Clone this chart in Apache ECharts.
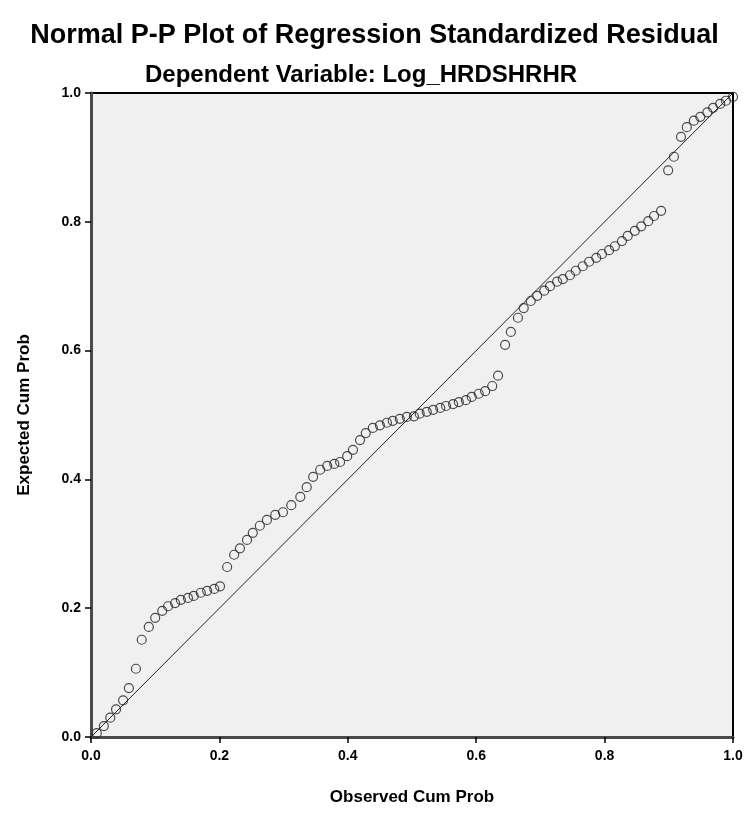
<!DOCTYPE html>
<html>
<head>
<meta charset="utf-8">
<script src="https://cdn.jsdelivr.net/npm/echarts@6/dist/echarts.min.js"></script>
<style>
  html, body { margin: 0; padding: 0; background: #fff; }
  #chart { width: 749px; height: 814px; }
</style>
</head>
<body>
<div id="chart"></div>
<script>
// observed vs expected cumulative probability
const observed = [
  0.009, 0.020, 0.030, 0.039, 0.050, 0.059, 0.070, 0.079, 0.090, 0.100,
  0.111, 0.120, 0.131, 0.140, 0.151, 0.160, 0.171, 0.181, 0.192, 0.201,
  0.212, 0.223, 0.232, 0.243, 0.252, 0.263, 0.274, 0.287, 0.299, 0.312,
  0.326, 0.336, 0.346, 0.357, 0.368, 0.379, 0.388, 0.399, 0.408, 0.419,
  0.428, 0.439, 0.450, 0.461, 0.470, 0.481, 0.492, 0.503, 0.512, 0.523,
  0.533, 0.544, 0.553, 0.564, 0.573, 0.584, 0.593, 0.604, 0.614, 0.625,
  0.634, 0.645, 0.654, 0.665, 0.674, 0.685, 0.695, 0.706, 0.715, 0.726,
  0.735, 0.746, 0.755, 0.766, 0.776, 0.787, 0.796, 0.807, 0.816, 0.827,
  0.836, 0.847, 0.857, 0.868, 0.877, 0.888, 0.899, 0.908, 0.919, 0.928,
  0.939, 0.949, 0.960, 0.969, 0.980, 0.989, 1.000
];
const expected = [
  0.006, 0.017, 0.030, 0.043, 0.057, 0.076, 0.106, 0.151, 0.171, 0.185,
  0.196, 0.203, 0.208, 0.213, 0.216, 0.219, 0.224, 0.227, 0.230, 0.234,
  0.264, 0.283, 0.293, 0.306, 0.317, 0.328, 0.337, 0.345, 0.349, 0.360,
  0.373, 0.388, 0.404, 0.415, 0.421, 0.424, 0.427, 0.436, 0.446, 0.461,
  0.472, 0.480, 0.484, 0.488, 0.491, 0.494, 0.497, 0.498, 0.502, 0.505,
  0.508, 0.511, 0.514, 0.517, 0.520, 0.523, 0.528, 0.533, 0.537, 0.545,
  0.561, 0.609, 0.629, 0.651, 0.666, 0.677, 0.685, 0.693, 0.700, 0.707,
  0.711, 0.717, 0.724, 0.731, 0.738, 0.744, 0.750, 0.756, 0.762, 0.770,
  0.778, 0.786, 0.793, 0.801, 0.809, 0.817, 0.880, 0.901, 0.932, 0.947,
  0.957, 0.963, 0.970, 0.977, 0.983, 0.988, 0.994
];
const refLine = [[0, 0], [1, 1]];
const axisTicks = [0, 0.2, 0.4, 0.6, 0.8, 1.0];

const titleText = "Normal P-P Plot of Regression Standardized Residual";
const subtitleText = "Dependent Variable: Log_HRDSHRHR";

const chart = echarts.init(document.getElementById("chart"));

const points = observed.map((x, i) => [x, expected[i]]);
const fmt = v => v.toFixed(1);
const font = "Arial, 'Liberation Sans', sans-serif";

const axisCommon = {
  type: "value",
  min: axisTicks[0],
  max: axisTicks[axisTicks.length - 1],
  interval: 0.2,
  splitLine: { show: false },
  axisLine: { show: true, lineStyle: { color: "#4a4a4a", width: 3 } },
  axisTick: { show: true, inside: false, length: 6, lineStyle: { color: "#000", width: 1.5 } },
  axisLabel: { formatter: fmt, color: "#000", fontSize: 14, fontWeight: "bold", fontFamily: font },
  nameLocation: "middle",
  nameTextStyle: { color: "#000", fontSize: 17, fontWeight: "bold", fontFamily: font }
};

const option = {
  animation: false,
  backgroundColor: "#fff",
  title: [
    {
      text: titleText,
      left: "center",
      top: 17,
      textStyle: { fontSize: 27, fontWeight: "bold", color: "#000", fontFamily: font }
    },
    {
      text: subtitleText,
      left: 140,
      top: 58,
      textStyle: { fontSize: 24, fontWeight: "bold", color: "#000", fontFamily: font }
    }
  ],
  grid: {
    left: 91, right: 16, top: 93, bottom: 77,
    show: true,
    backgroundColor: "#f0f0f0",
    borderColor: "#000",
    borderWidth: 2
  },
  xAxis: Object.assign({}, axisCommon, {
    name: "Observed Cum Prob",
    nameGap: 52,
    axisLabel: Object.assign({}, axisCommon.axisLabel, { margin: 12 })
  }),
  yAxis: Object.assign({}, axisCommon, {
    name: "Expected Cum Prob",
    nameGap: 58,
    axisLabel: Object.assign({}, axisCommon.axisLabel, { margin: 10 })
  }),
  series: [
    {
      type: "line",
      data: refLine,
      symbol: "none",
      lineStyle: { color: "#222", width: 1 },
      z: 2
    },
    {
      type: "scatter",
      data: points,
      symbol: "circle",
      symbolSize: 9,
      itemStyle: { color: "rgba(0,0,0,0)", borderColor: "#222", borderWidth: 1.2 },
      z: 3
    }
  ]
};

chart.setOption(option);
</script>
</body>
</html>
